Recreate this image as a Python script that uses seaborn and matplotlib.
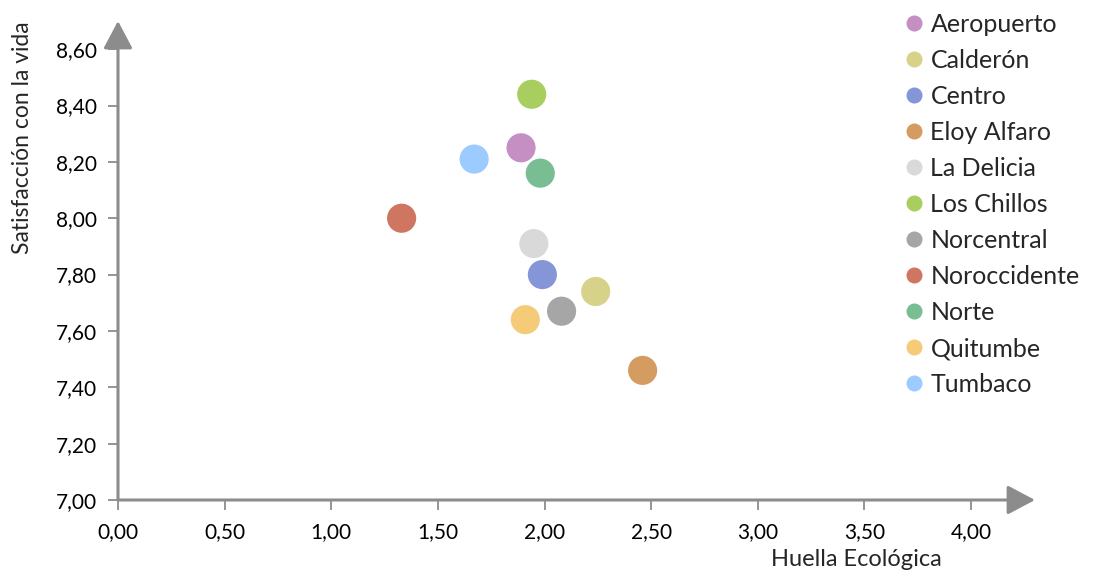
import numpy as np
import pandas as pd
import matplotlib
matplotlib.use("Agg")
import matplotlib.pyplot as plt
from matplotlib.ticker import FuncFormatter
import seaborn as sns

# datos: huella ecológica vs satisfacción con la vida por administración zonal
zonas = ['Aeropuerto', 'Calderón', 'Centro', 'Eloy Alfaro', 'La Delicia', 'Los Chillos',
         'Norcentral', 'Noroccidente', 'Norte', 'Quitumbe', 'Tumbaco']
huella = [1.89, 2.24, 1.99, 2.46, 1.95, 1.94, 2.08, 1.33, 1.98, 1.91, 1.67]
satisfaccion = [8.25, 7.74, 7.80, 7.46, 7.91, 8.44, 7.67, 8.00, 8.16, 7.64, 8.21]
colores = ['#C58FC4', '#D6D28A', '#8596D8', '#D59C62', '#D9D9D9', '#A8CE60',
           '#A6A6A6', '#CF7663', '#78BE92', '#F5CB7A', '#9CCBFF']

df = pd.DataFrame({'zona': zonas, 'huella': huella, 'satisfaccion': satisfaccion})
paleta = dict(zip(zonas, colores))

sns.set_style('white')
plt.rcParams['font.family'] = ['Lato', 'DejaVu Sans']

fig = plt.figure(figsize=(10.94, 5.76), dpi=100)
ax = fig.add_axes([118/1094, 1-500/576, 917/1094, 479/576])

sns.scatterplot(data=df, x='huella', y='satisfaccion', hue='zona', palette=paleta,
                hue_order=zonas, s=440, edgecolor='none', ax=ax, legend=True)

ax.set_xlim(0, 4.30)
ax.set_ylim(7.0, 8.70)
ax.set_xticks(np.arange(0, 4.01, 0.5))
ax.set_yticks(np.arange(7.0, 8.61, 0.2))
fmt = FuncFormatter(lambda v, p: f'{v:.2f}'.replace('.', ','))
ax.xaxis.set_major_formatter(fmt)
ax.yaxis.set_major_formatter(fmt)

gris = '#8C8C8C'
for s in ax.spines.values():
    s.set_visible(False)
ax.tick_params(axis='both', which='major', direction='out', length=7, width=1.3,
               color=gris, labelsize=15, labelcolor='black', left=True, bottom=True)
ax.tick_params(axis='x', pad=9)
ax.tick_params(axis='y', pad=8)

# ejes con flecha
flecha = dict(arrowstyle='-|>,head_length=1.7,head_width=0.9', color=gris, lw=2.2,
              shrinkA=0, shrinkB=0)
ax.annotate('', xy=(1, 0), xytext=(0, 0), xycoords='axes fraction', arrowprops=flecha)
ax.annotate('', xy=(0, 1), xytext=(0, 0), xycoords='axes fraction', arrowprops=flecha)

ax.set_xlabel('Huella Ecológica', fontsize=17, ha='center', va='center')
ax.xaxis.set_label_coords(0.805, -0.125)
ax.set_ylabel('Satisfacción con la vida', fontsize=16.5, ha='center', va='center')
ax.yaxis.set_label_coords(-0.104, 0.756)

leg = ax.legend(loc='upper left', bbox_to_anchor=(905/1094, 1-13/576),
                bbox_transform=fig.transFigure, frameon=False, fontsize=18,
                handlelength=0.7, handletextpad=0.32, labelspacing=0.52,
                borderpad=0, borderaxespad=0, markerscale=0.55)
for h in leg.legend_handles:
    h.set_markeredgecolor('none')

fig.savefig('out.png', dpi=100)
